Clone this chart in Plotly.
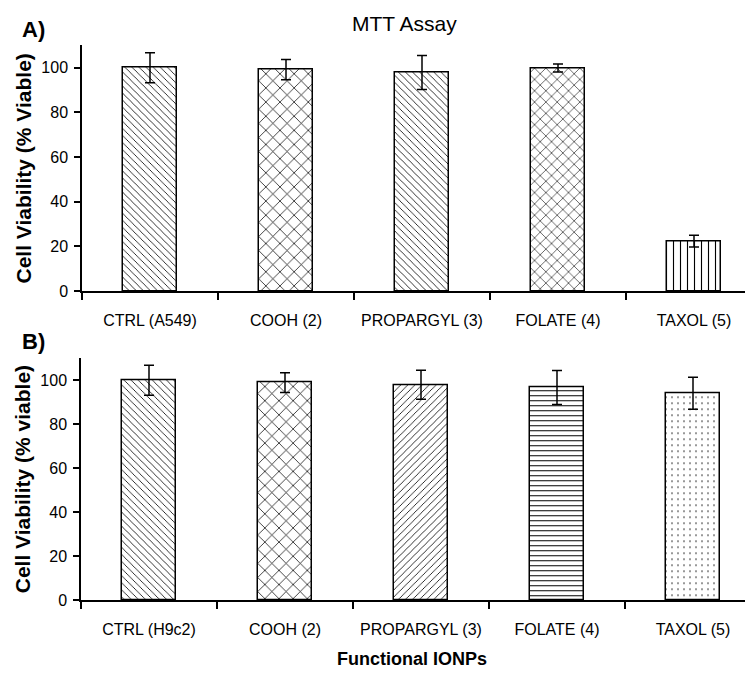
import plotly.graph_objects as go

# ---- data ----
categories_a = ["CTRL (A549)", "COOH (2)", "PROPARGYL (3)", "FOLATE (4)", "TAXOL (5)"]
categories_b = ["CTRL (H9c2)", "COOH (2)", "PROPARGYL (3)", "FOLATE (4)", "TAXOL (5)"]
viability_a = [100.0, 99.2, 97.9, 99.9, 22.4]
error_a = [6.7, 4.5, 7.6, 1.8, 2.6]
viability_b = [100.0, 98.9, 97.9, 96.7, 94.1]
error_b = [6.8, 4.5, 6.6, 7.7, 7.3]
y_ticks = [0, 20, 40, 60, 80, 100]

patterns_a = ["\\", "x", "\\", "x", "|"]
sizes_a = [5, 10, 5, 8, 7]
solidity_a = [0.16, 0.14, 0.16, 0.14, 0.16]
patterns_b = ["\\", "x", "/", "-", "."]
sizes_b = [5, 10, 5, 5, 6]
solidity_b = [0.16, 0.14, 0.16, 0.2, 0.05]

FONT = "Liberation Sans, Arial, sans-serif"
W, H = 753, 673

xa = list(range(len(categories_a)))
xb = list(range(len(categories_b)))

fig = go.Figure()

def add_panel(x, y, err, shapes, sizes, solid, xref, yref):
    fig.add_trace(go.Bar(
        x=x, y=y, width=0.39,
        xaxis=xref, yaxis=yref,
        marker=dict(
            color="white",
            line=dict(color="black", width=1.5),
            pattern=dict(shape=shapes, size=sizes, solidity=solid,
                         fgcolor="black", bgcolor="white", fillmode="replace"),
        ),
        error_y=dict(type="data", array=err, visible=True, color="black",
                     thickness=1.5, width=5),
        showlegend=False,
    ))

add_panel(xa, viability_a, error_a, patterns_a, sizes_a, solidity_a, "x", "y")
add_panel(xb, viability_b, error_b, patterns_b, sizes_b, solidity_b, "x2", "y2")

def xaxis_cfg(cats, start):
    n = len(cats)
    return dict(
        domain=[start / W, 1.0],
        range=[-0.5, -0.5 + (W - start) / 136.0],
        tickmode="array", tickvals=list(range(n)), ticktext=cats,
        ticks="outside", ticklen=0, tickcolor="black",
        ticklabelstandoff=14,
        minor=dict(tickmode="array", tickvals=[i - 0.5 for i in range(n + 1)],
                   ticks="outside", ticklen=7, tickwidth=1.5, tickcolor="black"),
        showline=True, linecolor="black", linewidth=1.5,
        showgrid=False, zeroline=False, fixedrange=True,
        tickfont=dict(family=FONT, size=16, color="black"),
    )

def yaxis_cfg(top_px, bottom_px, title):
    return dict(
        domain=[1 - bottom_px / H, 1 - top_px / H],
        range=[0, 110],
        tickmode="array", tickvals=y_ticks,
        ticks="outside", ticklen=6, tickwidth=1.5, tickcolor="black",
        ticklabelstandoff=3,
        showline=True, linecolor="black", linewidth=1.5,
        showgrid=False, zeroline=False,
        tickfont=dict(family=FONT, size=16, color="black"),
        title=dict(text=title, standoff=4,
                   font=dict(family=FONT, size=21, color="black", weight="bold")),
    )

fig.update_layout(
    width=W, height=H,
    margin=dict(l=0, r=0, t=0, b=0),
    paper_bgcolor="white", plot_bgcolor="white",
    bargap=0,
    xaxis=dict(**xaxis_cfg(categories_a, 74), anchor="y"),
    yaxis=dict(**yaxis_cfg(38, 287, "Cell Viability (% Viable)"), anchor="x"),
    xaxis2=dict(**xaxis_cfg(categories_b, 73), anchor="y2"),
    yaxis2=dict(**yaxis_cfg(355, 600, "Cell Viability (% viable)"), anchor="x2"),
    annotations=[
        dict(text="MTT Assay", x=396 / W, y=1 - 16 / H, xref="paper", yref="paper",
             showarrow=False, xanchor="center", yanchor="middle",
             font=dict(family=FONT, size=21, color="black")),
        dict(text="<b>A)</b>", x=12 / W, y=1 - 22 / H, xref="paper", yref="paper",
             showarrow=False, xanchor="left", yanchor="middle",
             font=dict(family=FONT, size=22, color="black")),
        dict(text="<b>B)</b>", x=12 / W, y=1 - 338 / H, xref="paper", yref="paper",
             showarrow=False, xanchor="left", yanchor="middle",
             font=dict(family=FONT, size=22, color="black")),
        dict(text="<b>Functional IONPs</b>", x=404 / W, y=1 - 660 / H, xref="paper", yref="paper",
             showarrow=False, xanchor="center", yanchor="middle",
             font=dict(family=FONT, size=18, color="black")),
    ],
)

fig.write_html("out.html")
